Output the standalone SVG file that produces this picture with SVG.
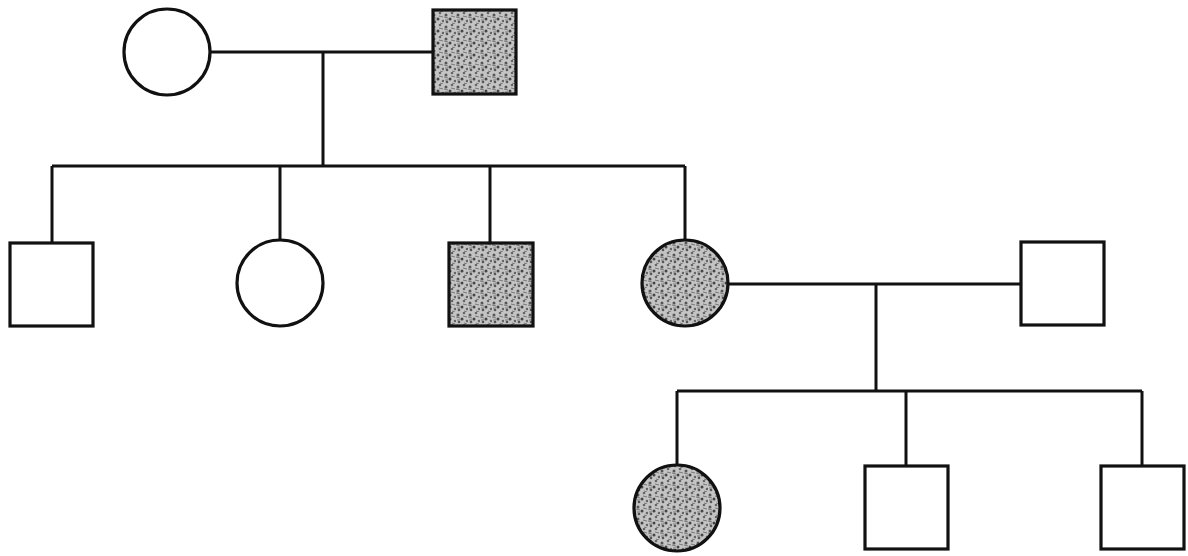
<svg xmlns="http://www.w3.org/2000/svg" width="1188" height="556" viewBox="0 0 1188 556">
<defs>
<pattern id="stip" width="12" height="12" patternUnits="userSpaceOnUse">
<rect width="12" height="12" fill="#c4c4c4"/>
<circle cx="2" cy="3" r="1.5" fill="#555"/>
<circle cx="8" cy="1" r="1.3" fill="#666"/>
<circle cx="6" cy="7" r="1.5" fill="#444"/>
<circle cx="11" cy="9" r="1.3" fill="#666"/>
<circle cx="3" cy="10" r="1.3" fill="#555"/>
<path d="M0 5 L4 6 M7 4 L11 5 M1 8 L4 8 M8 11 L11 12" stroke="#777" stroke-width="1"/>
</pattern>
<style>
.n{fill:#fff;stroke:#111;stroke-width:3.2}
.a{fill:url(#stip);stroke:#111;stroke-width:3.2}
.c{fill:none;stroke:#111;stroke-width:3}
</style>
</defs>
<rect width="1188" height="556" fill="#fff"/>
<g id="connectors">
<path class="c" d="M211 52 H433"/>
<path class="c" d="M323 52 V166"/>
<path class="c" d="M52 166 H685"/>
<path class="c" d="M52 166 V243"/>
<path class="c" d="M280 166 V240"/>
<path class="c" d="M490 166 V243"/>
<path class="c" d="M685 166 V240"/>
<path class="c" d="M727 284 H1021"/>
<path class="c" d="M876 284 V391"/>
<path class="c" d="M677 391 H1142"/>
<path class="c" d="M677 391 V465"/>
<path class="c" d="M906 391 V466"/>
<path class="c" d="M1142 391 V466"/>
</g>
<g id="gen1-mother"><circle class="n" cx="167" cy="52" r="43"/></g>
<g id="gen1-father"><rect class="a" x="433" y="10" width="83" height="84"/></g>
<g id="gen2-son1"><rect class="n" x="10" y="243" width="83" height="83"/></g>
<g id="gen2-daughter1"><circle class="n" cx="280" cy="283" r="43"/></g>
<g id="gen2-son2"><rect class="a" x="449" y="243" width="84" height="83"/></g>
<g id="gen2-daughter2"><circle class="a" cx="685" cy="283" r="43"/></g>
<g id="gen2-husband"><rect class="n" x="1021" y="242" width="83" height="83"/></g>
<g id="gen3-daughter"><circle class="a" cx="677" cy="508" r="43"/></g>
<g id="gen3-son1"><rect class="n" x="865" y="466" width="83" height="83"/></g>
<g id="gen3-son2"><rect class="n" x="1101" y="466" width="83" height="83"/></g>
</svg>
